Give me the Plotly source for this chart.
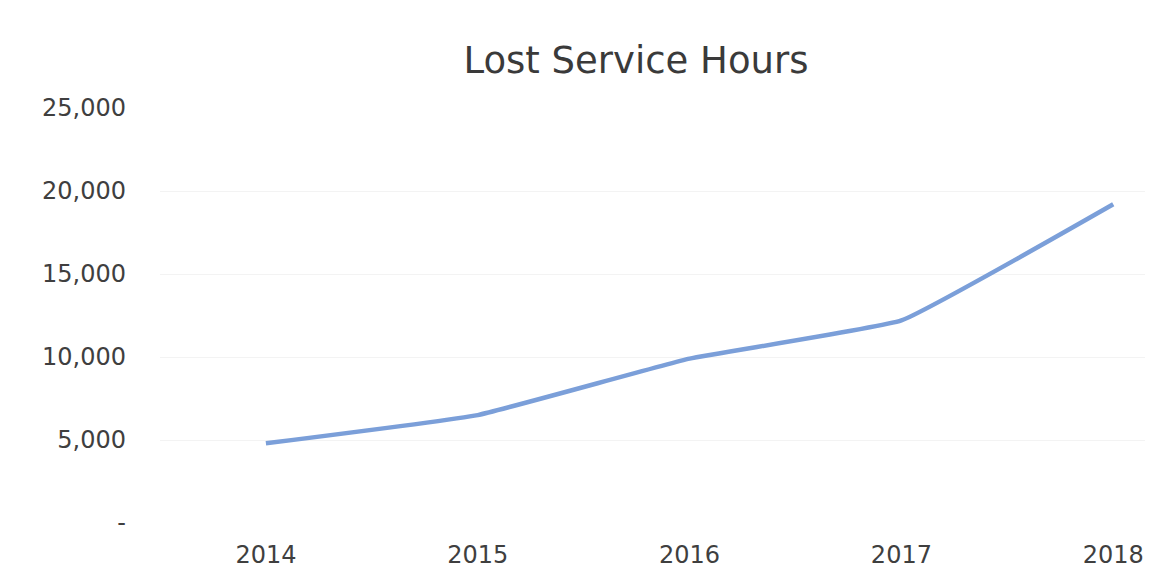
import plotly.graph_objects as go

years = ["2014", "2015", "2016", "2017", "2018"]
lost_hours = [4800, 6500, 9900, 12200, 19200]
y_tick_vals = [0, 5000, 10000, 15000, 20000, 25000]
y_tick_text = ["-", "5,000", "10,000", "15,000", "20,000", "25,000"]
title_text = "Lost Service Hours"

fig = go.Figure()
fig.add_trace(go.Scatter(
    x=years, y=lost_hours, mode="lines",
    line=dict(color="#7B9FD9", width=4.5, shape="spline", smoothing=0.3),
    showlegend=False, hoverinfo="x+y",
))

fig.update_layout(
    width=1168, height=586,
    paper_bgcolor="white", plot_bgcolor="white",
    margin=dict(l=160, r=23, t=108, b=63),
    title=dict(text=title_text, x=636/1168, xref="container", xanchor="center",
               y=1 - 60/586, yref="container", yanchor="middle",
               font=dict(family="DejaVu Sans, Verdana, sans-serif", size=37, color="#3A3A3A")),
    font=dict(family="DejaVu Sans, Verdana, sans-serif", color="#3F3F3F"),
)
fig.update_xaxes(
    type="category", range=[-0.5, 4.15], showgrid=False, zeroline=False,
    showline=False, ticks="", tickfont=dict(size=24, color="#3F3F3F"),
    ticklabelstandoff=15,
)
fig.update_yaxes(
    range=[0, 25000], tickvals=y_tick_vals, ticktext=y_tick_text,
    showgrid=True, gridcolor="#F3F3F3", gridwidth=1, zeroline=False,
    showline=False, ticks="", tickfont=dict(size=24, color="#3F3F3F"),
    ticklabelstandoff=33,
)

fig.write_html("out.html", config={"displayModeBar": False},
               post_script="document.body.style.margin='0';")
